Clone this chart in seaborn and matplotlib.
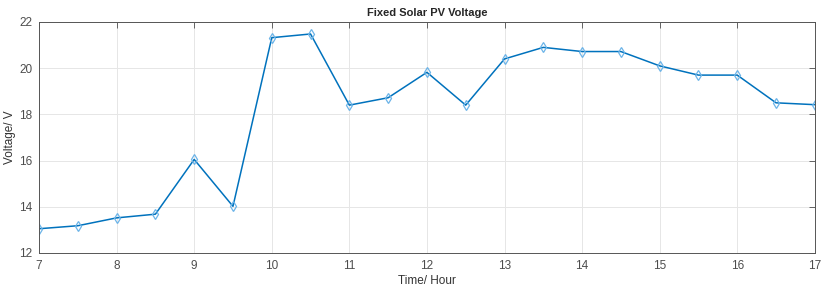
import pandas as pd
import matplotlib
matplotlib.use('Agg')
import matplotlib.pyplot as plt
import seaborn as sns

# data
hours = [7, 7.5, 8, 8.5, 9, 9.5, 10, 10.5, 11, 11.5, 12,
         12.5, 13, 13.5, 14, 14.5, 15, 15.5, 16, 16.5, 17]
voltage = [13.05, 13.18, 13.52, 13.68, 16.05, 14.02, 21.32, 21.48, 18.4, 18.72, 19.82,
           18.4, 20.4, 20.9, 20.72, 20.72, 20.1, 19.7, 19.7, 18.5, 18.42]
x_ticks = list(range(7, 18))
y_ticks = [12, 14, 16, 18, 20, 22]

df = pd.DataFrame({'Time': hours, 'Voltage': voltage})

sns.set_theme(style='white')
plt.rcParams['font.family'] = ['Liberation Sans', 'DejaVu Sans']

fig = plt.figure(figsize=(8.34, 2.89), dpi=100)
ax = fig.add_axes([0.0468, 0.1246, 0.9302, 0.7994])

sns.lineplot(data=df, x='Time', y='Voltage', ax=ax, color='#0072BD', linewidth=1.1,
             marker='d', markersize=5.5, markerfacecolor='none',
             markeredgecolor='#6cb4e8', markeredgewidth=0.9)

ax.set_xlim(7, 17)
ax.set_ylim(12, 22)
ax.set_xticks(x_ticks)
ax.set_yticks(y_ticks)
ax.grid(True, color='#e6e6e6', linewidth=0.7)
ax.tick_params(direction='in', top=True, right=True, length=4, width=0.6,
               colors='#4d4d4d', labelsize=8.5, pad=5)
for s in ax.spines.values():
    s.set_color('#555555')
    s.set_linewidth(0.7)

ax.set_title('Fixed Solar PV Voltage', fontsize=8, fontweight='bold', pad=4)
ax.set_xlabel('Time/ Hour', fontsize=8.5, color='#333333', labelpad=2)
ax.set_ylabel('Voltage/ V', fontsize=8.5, color='#333333', labelpad=2)

fig.savefig('out.png', dpi=100)
